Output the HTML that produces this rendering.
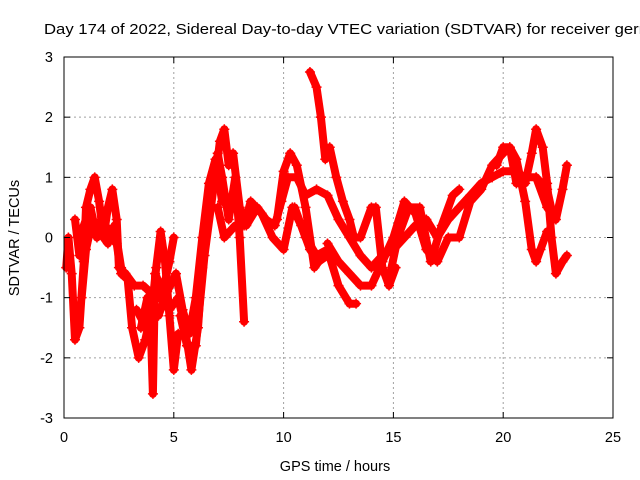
<!DOCTYPE html>
<html><head><meta charset="utf-8"><style>
body{margin:0;background:#fff}
svg{display:block;font-family:"Liberation Sans",sans-serif}
</style></head><body>
<svg id="chart" width="640" height="480" viewBox="0 0 640 480" xmlns="http://www.w3.org/2000/svg">
<text x="44" y="34" font-size="14.5" textLength="604" lengthAdjust="spacingAndGlyphs">Day 174 of 2022, Sidereal Day-to-day VTEC variation (SDTVAR) for receiver gern</text>
<g id="grid"></g>
<g id="series"></g>
<rect x="64" y="57" width="549" height="361" fill="none" stroke="#000" stroke-width="1"/>
<g id="ticks"></g>
<text x="335" y="471" font-size="14.5" text-anchor="middle">GPS time / hours</text>
<text transform="translate(19,238) rotate(-90)" font-size="14.5" text-anchor="middle">SDTVAR / TECUs</text>
</svg>
<script>
const xTicks=[0,5,10,15,20,25];
const yTicks=[-3,-2,-1,0,1,2,3];
const traceA=[[0.1,-0.5],[0.2,0.0],[0.35,-0.6],[0.5,-1.7],[0.7,-1.5],[0.9,-0.4],[1.0,0.5],[1.2,0.8],[1.4,1.0],[1.6,0.6],[1.8,0.0],[2.0,0.5],[2.2,0.8],[2.4,0.3],[2.5,-0.5],[2.8,-0.6]];
const traceB=[[0.5,0.3],[0.7,-0.3],[0.9,0.2],[1.2,0.5],[1.5,0.0],[1.8,0.3],[2.1,0.0],[2.4,-0.1],[2.6,-0.6],[2.9,-0.7],[3.1,-1.5],[3.4,-2.0],[3.7,-1.7],[4.0,-1.2],[4.2,-0.5],[4.4,0.1],[4.6,-0.4],[4.8,-1.3],[5.0,-2.2],[5.2,-1.6]];
const traceC=[[2.8,-0.6],[3.2,-0.8],[3.6,-0.8],[3.9,-0.9],[4.05,-2.6],[4.15,-0.6],[4.5,-0.9],[4.8,-0.4],[5.0,0.0]];
const traceD=[[3.5,-1.5],[3.8,-1.0],[4.0,-1.6],[4.2,-0.8],[4.4,-1.0],[4.8,-1.2],[5.2,-1.0],[5.5,-1.5],[5.8,-2.2],[6.1,-1.5],[6.3,-0.5],[6.6,0.5],[6.9,1.0],[7.1,1.6],[7.3,1.8],[7.5,1.2],[7.7,1.4],[8.0,0.5],[8.3,0.2],[8.8,0.5],[9.2,0.3],[9.6,0.2],[9.9,0.6],[10.2,1.0],[10.6,1.0],[11.0,0.7],[11.5,0.8],[12.0,0.7],[12.5,0.3],[13.0,0.0],[13.5,-0.3],[14.0,-0.5],[14.5,-0.3],[15.0,-0.2],[15.5,0.0],[16.0,0.2],[16.5,0.3],[17.0,0.0],[17.5,0.3],[18.0,0.5],[18.5,0.7],[19.0,0.9],[19.5,1.0],[20.0,1.1],[20.5,1.1],[21.0,1.0],[21.5,1.0],[22.0,0.8],[22.3,0.3]];
const traceE=[[5.3,-1.3],[5.6,-1.8],[6.0,-1.8],[6.4,-0.3],[6.8,0.8],[7.0,1.4],[7.2,1.0],[7.5,0.3],[7.8,1.0],[8.0,0.0],[8.2,-1.4]];
const traceF=[[7.0,0.5],[7.3,0.0],[7.8,0.2],[8.2,0.2],[8.5,0.6],[9.0,0.4],[9.5,0.0],[10.0,-0.2],[10.4,0.5],[10.8,0.2],[11.2,-0.2],[11.6,-0.4],[12.0,-0.3]];
const traceG=[[9.7,0.3],[10.0,1.1],[10.3,1.4],[10.6,1.2],[11.0,0.5],[11.4,-0.5],[11.8,-0.3]];
const traceH=[[11.2,2.75],[11.5,2.5],[11.7,2.0],[11.9,1.3],[12.1,1.5],[12.4,1.0],[12.7,0.6],[13.0,0.3],[13.2,0.0],[13.5,0.0],[14.0,0.5],[14.2,0.5],[14.5,-0.5],[14.8,-0.8],[15.1,-0.5]];
const traceI=[[10.5,0.5],[11.0,0.0],[11.5,-0.3],[12.0,-0.2],[12.5,-0.8],[13.0,-1.1],[13.3,-1.1]];
const traceJ=[[12.0,-0.1],[12.5,-0.4],[13.0,-0.6],[13.5,-0.8],[14.0,-0.8],[14.5,-0.4],[15.0,0.0],[15.5,0.6],[16.0,0.4],[16.5,-0.2],[17.0,-0.4],[17.5,0.0],[18.0,0.0],[18.5,0.6],[19.0,0.8],[19.5,1.2],[20.0,1.4],[20.3,1.5],[20.6,1.3],[21.0,0.6],[21.3,-0.2],[21.5,-0.4],[21.7,-0.2],[22.0,0.1]];
const traceK=[[14.8,-0.7],[15.2,0.0],[15.7,0.5],[16.2,0.5],[16.7,-0.4],[17.2,0.2],[17.7,0.7],[18.0,0.8]];
const traceL=[[19.7,1.2],[20.0,1.5],[20.3,1.5],[20.6,0.9],[21.0,0.9],[21.3,1.4],[21.5,1.8],[21.8,1.5],[22.0,0.9],[22.2,0.0],[22.4,-0.6],[22.7,-0.4],[22.9,-0.3]];
const traceM=[[21.5,1.0],[22.0,0.5],[22.4,0.3],[22.7,0.8],[22.9,1.2]];
const traceN=[[0.8,-1.0],[1.0,-0.2],[1.3,0.3],[1.6,0.1],[2.0,-0.1],[2.3,0.2],[2.6,-0.5]];
const traceO=[[3.3,-1.2],[3.6,-1.4],[3.9,-1.0],[4.3,-1.3],[4.7,-0.9],[5.1,-0.6],[5.4,-1.2],[5.7,-1.6],[6.0,-1.0],[6.3,0.0],[6.6,0.9],[6.9,1.3],[7.2,0.6]];
const traces=[traceA,traceB,traceC,traceD,traceE,traceF,traceG,traceH,traceI,traceJ,traceK,traceL,traceM,traceN,traceO];

const X0=64,X1=613,Y0=418,Y1=57;
const xs=h=>X0+(h-0)/(25-0)*(X1-X0);
const ys=v=>Y0-(v+3)/6*(Y0-Y1);
const NS="http://www.w3.org/2000/svg";
const grid=document.getElementById('grid'),ticks=document.getElementById('ticks'),ser=document.getElementById('series');
function mk(t,a,p){const e=document.createElementNS(NS,t);for(const k in a)e.setAttribute(k,a[k]);p.appendChild(e);return e;}
xTicks.forEach(t=>{const x=xs(t);
 if(t>0&&t<25){const g=mk('line',{x1:x,x2:x,y1:Y1,y2:Y0,stroke:'#a0a0a0','stroke-dasharray':'2,3'},grid);
 
 }
 const l=mk('line',{x1:x,x2:x,y1:Y0,y2:Y0-6,stroke:'#000'},ticks);
 
 
 const l2=mk('line',{x1:x,x2:x,y1:Y1,y2:Y1+6,stroke:'#000'},ticks);
 
 
 const tx=mk('text',{x:x,y:442,'font-size':'14.5','text-anchor':'middle'},ticks);tx.textContent=t;
 
 
});
yTicks.forEach(t=>{const y=ys(t);
 if(t>-3&&t<3){const g=mk('line',{x1:X0,x2:X1,y1:y,y2:y,stroke:'#a0a0a0','stroke-dasharray':'2,3'},grid);
 
 }
 const l=mk('line',{x1:X0,x2:X0+6,y1:y,y2:y,stroke:'#000'},ticks);
 
 
 const l2=mk('line',{x1:X1,x2:X1-6,y1:y,y2:y,stroke:'#000'},ticks);
 
 
 const tx=mk('text',{x:53,y:y+5,'font-size':'14.5','text-anchor':'end'},ticks);tx.textContent=t;
 
 
});
traces.forEach((tr,i)=>{
 const pts=tr.map(p=>xs(p[0]).toFixed(1)+','+ys(p[1]).toFixed(1)).join(' ');
 const pl=mk('polyline',{points:pts,fill:'none',stroke:'#ff0000','stroke-width':'8','stroke-linejoin':'round','stroke-linecap':'round'},ser);
 
 
 tr.forEach(p=>{const x=xs(p[0]),y=ys(p[1]);
  const m=mk('path',{d:`M${x-5},${y}H${x+5}M${x},${y-5}V${y+5}`,stroke:'#ff0000','stroke-width':'1.5'},ser);
  
  
 });
});
</script>
</body></html>
